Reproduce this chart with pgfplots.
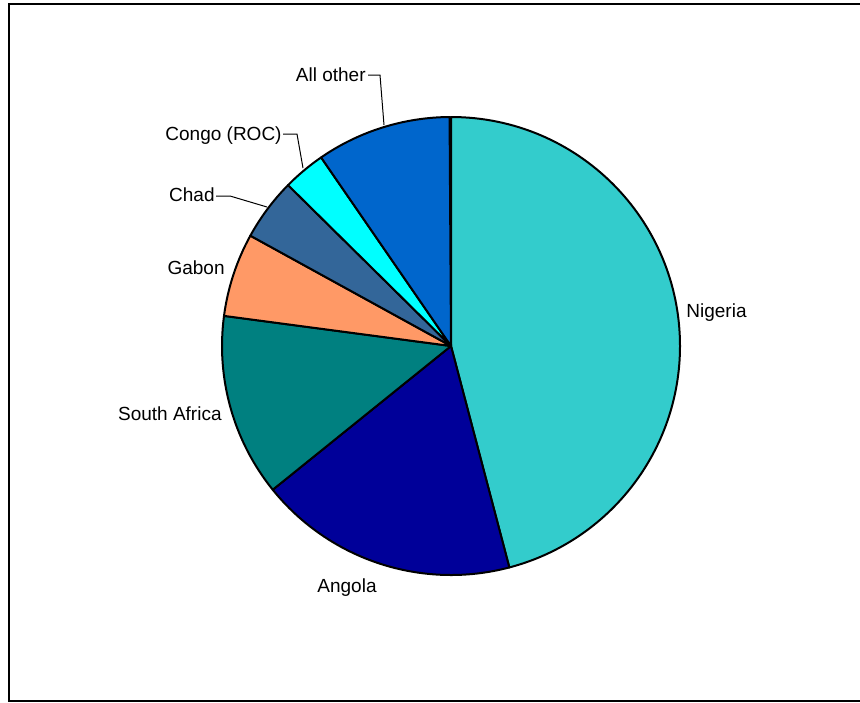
\documentclass[border=0pt]{standalone}
\usepackage{pgfplots}
\pgfplotsset{compat=1.18}
\usepackage{pgfplotstable}
\usepackage{fontspec}
\setmainfont{Liberation Sans}
\definecolor{cNig}{HTML}{33CCCC}
\definecolor{cAng}{HTML}{000099}
\definecolor{cSA}{HTML}{008080}
\definecolor{cGab}{HTML}{FF9966}
\definecolor{cChad}{HTML}{336699}
\definecolor{cCongo}{HTML}{00FFFF}
\definecolor{cOther}{HTML}{0066CC}
\pgfplotstableread{
label value
Nigeria 45.9
Angola 18.3
{South Africa} 12.9
Gabon 5.9
Chad 4.4
{Congo (ROC)} 3.0
{All other} 9.5
}\piedata
\begin{document}
\begin{tikzpicture}
\begin{axis}[
  scale only axis, width=430pt, height=351pt,
  xmin=0, xmax=860, ymin=0, ymax=702, y dir=reverse,
  hide axis, clip=false,
  font=\fontsize{9.5}{11}\selectfont,
]
\addplot[draw=none] coordinates {(0,0) (860,702)};
\pgfplotsextra{
  \gdef\startang{90}
  \foreach \i/\col in {0/cNig,1/cAng,2/cSA,3/cGab,4/cChad,5/cCongo,6/cOther}{
    \pgfplotstablegetelem{\i}{value}\of\piedata
    \pgfmathsetmacro\endang{\startang-3.6*\pgfplotsretval}
    \filldraw[fill=\col, draw=black, line width=1pt, line join=round]
      (axis cs:451,346) -- ++(\startang:114.5pt)
      arc[start angle=\startang, end angle=\endang, radius=114.5pt] -- cycle;
    \xdef\startang{\endang}
  }
  % leader lines
  \draw[line width=0.5pt] (axis cs:368,75) -- (axis cs:380,75) -- (axis cs:384,125);
  \draw[line width=0.5pt] (axis cs:283,134) -- (axis cs:297,134) -- (axis cs:303,168);
  \draw[line width=0.5pt] (axis cs:216,196) -- (axis cs:230,196) -- (axis cs:267,207);
  % frame
  \draw[line width=1pt] (axis cs:862,4) -- (axis cs:8.5,4) -- (axis cs:8.5,701) -- (axis cs:862,701);
}
\node[anchor=mid west, inner sep=0pt] at (axis cs:686,312) {Nigeria};
\node[anchor=mid, inner sep=0pt] at (axis cs:347,587) {Angola};
\node[anchor=mid east, inner sep=0pt] at (axis cs:222,415) {South Africa};
\node[anchor=mid east, inner sep=0pt] at (axis cs:225,269) {Gabon};
\node[anchor=mid east, inner sep=0pt] at (axis cs:215,196) {Chad};
\node[anchor=mid east, inner sep=0pt] at (axis cs:282,135) {Congo (ROC)};
\node[anchor=mid east, inner sep=0pt] at (axis cs:366,76) {All other};
\coordinate (bbA) at (axis cs:0,702);
\coordinate (bbB) at (axis cs:860,0);
\end{axis}
\pgfresetboundingbox
\useasboundingbox (bbA) rectangle (bbB);
\end{tikzpicture}
\end{document}
